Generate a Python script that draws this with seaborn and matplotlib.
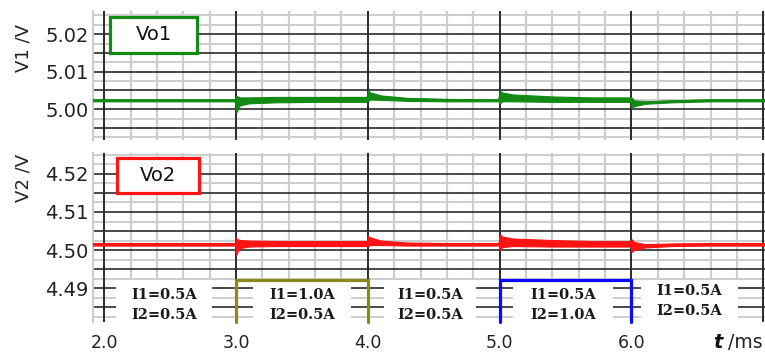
import numpy as np
import pandas as pd
import matplotlib
matplotlib.use("Agg")
import matplotlib.pyplot as plt
import seaborn as sns
from matplotlib.ticker import FixedLocator, FuncFormatter
from matplotlib.patches import Rectangle

# Time samples (ms) of the output-voltage envelopes
t_ms = [1.9, 2.995, 3.0, 3.01, 3.03, 3.1, 3.3, 3.6, 3.995, 4.0, 4.02, 4.1, 4.3,
        4.6, 4.995, 5.0, 5.02, 5.1, 5.4, 5.7, 5.995, 6.0, 6.02, 6.1, 6.3, 6.6, 7.02]

# Vo1 envelope (V)
v1_hi = [5.00263, 5.00263, 5.00368, 5.00342, 5.00316, 5.00316, 5.00329, 5.00329,
         5.00329, 5.00500, 5.00447, 5.00368, 5.00303, 5.00276, 5.00263, 5.00500,
         5.00447, 5.00395, 5.00342, 5.00316, 5.00316, 5.00316, 5.00237, 5.00211,
         5.00237, 5.00263, 5.00263]
v1_lo = [5.00211, 5.00211, 4.99895, 4.99974, 5.00105, 5.00158, 5.00184, 5.00197,
         5.00197, 5.00211, 5.00263, 5.00250, 5.00224, 5.00211, 5.00211, 5.00158,
         5.00211, 5.00211, 5.00197, 5.00197, 5.00197, 5.00026, 5.00079, 5.00145,
         5.00184, 5.00211, 5.00211]

# Vo2 envelope (V)
v2_hi = [4.50184, 4.50184, 4.50316, 4.50289, 4.50263, 4.50250, 4.50237, 4.50237,
         4.50237, 4.50368, 4.50329, 4.50250, 4.50197, 4.50184, 4.50184, 4.50421,
         4.50355, 4.50303, 4.50263, 4.50237, 4.50237, 4.50289, 4.50211, 4.50158,
         4.50171, 4.50184, 4.50184]
v2_lo = [4.50118, 4.50118, 4.49868, 4.49947, 4.50053, 4.50092, 4.50105, 4.50105,
         4.50105, 4.50105, 4.50132, 4.50132, 4.50118, 4.50118, 4.50118, 4.50000,
         4.50079, 4.50105, 4.50092, 4.50092, 4.50092, 4.49947, 4.50000, 4.50066,
         4.50105, 4.50118, 4.50118]

# Load currents in each time segment
segment_edges = [1.9, 3.0, 4.0, 5.0, 6.0, 7.02]
i1_labels = ["0.5", "1.0", "0.5", "0.5", "0.5"]
i2_labels = ["0.5", "0.5", "0.5", "1.0", "0.5"]

# Load-step pulses
pulse_start = [3.0, 5.0]
pulse_end = [4.0, 6.0]
pulse_level = 4.4921
pulse_colors = ["#8a8a1a", "#0a0aff"]

x_ticks = [2.0, 3.0, 4.0, 5.0, 6.0]

sns.set_theme(style="white")
plt.rcParams["font.family"] = ["DejaVu Sans"]

fig = plt.figure(figsize=(7.65, 3.56), dpi=100)
W, H = 765, 356


def px_axes(x0, y0, x1, y1):
    return fig.add_axes([x0 / W, 1 - y1 / H, (x1 - x0) / W, (y1 - y0) / H])


ax1 = px_axes(93, 11, 765, 140)
ax2 = px_axes(93, 153, 765, 322)

XLIM = (1.915, 7.013)
MAJOR = "#2b2b2b"
MINOR = "#cdcdcd"


def style_axes(ax, ylim, majors, minors, labels):
    ax.set_xlim(*XLIM)
    ax.set_ylim(*ylim)
    x_major = np.arange(2.0, 7.01, 1.0)
    x_minor = [v for v in np.arange(2.0, 7.01, 0.2) if abs(v - round(v)) > 1e-6]
    # grid: light lines first, dark lines on top of them
    for v in x_minor:
        ax.axvline(v, color=MINOR, lw=1.6, zorder=0.1)
    for v in minors:
        ax.axhline(v, color=MINOR, lw=1.4, zorder=0.1)
    for v in x_major:
        ax.axvline(v, color=MAJOR, lw=1.4, zorder=0.3)
    for v in majors:
        ax.axhline(v, color=MAJOR, lw=1.2, zorder=0.3)
    ax.xaxis.set_major_locator(FixedLocator(x_major))
    ax.yaxis.set_major_locator(FixedLocator(majors))
    ax.yaxis.set_major_formatter(FuncFormatter(
        lambda v, p: f"{v:.2f}" if any(abs(v - l) < 1e-6 for l in labels) else ""))
    ax.grid(False)
    for s in ["right", "bottom", "top"]:
        ax.spines[s].set_visible(False)
    ax.spines["left"].set_color(MINOR)
    ax.spines["left"].set_linewidth(1.5)
    ax.tick_params(axis="both", which="both", length=0)
    ax.tick_params(axis="y", labelsize=14, pad=3, labelcolor="#222222")


style_axes(ax1, (4.9918, 5.0262),
           np.arange(4.995, 5.0201, 0.005),
           list(np.arange(4.9925, 5.0226, 0.005)) + [5.025],
           [5.00, 5.01, 5.02])
style_axes(ax2, (4.4811, 4.5255),
           np.arange(4.485, 4.5201, 0.005),
           list(np.arange(4.4825, 4.5226, 0.005)) + [4.525],
           [4.49, 4.50, 4.51, 4.52])

df = pd.DataFrame({"t": t_ms, "v1_hi": v1_hi, "v1_lo": v1_lo,
                   "v2_hi": v2_hi, "v2_lo": v2_lo})
df["v1"] = (df.v1_hi + df.v1_lo) / 2
df["v2"] = (df.v2_hi + df.v2_lo) / 2

GREEN = "#138a13"
RED = "#ff1414"
ax1.fill_between(df.t, df.v1_lo, df.v1_hi, color=GREEN, lw=0.8, zorder=3)
sns.lineplot(data=df, x="t", y="v1", ax=ax1, color=GREEN, lw=1.5, zorder=3)
ax2.fill_between(df.t, df.v2_lo, df.v2_hi, color=RED, lw=0.8, zorder=3)
sns.lineplot(data=df, x="t", y="v2", ax=ax2, color=RED, lw=1.5, zorder=3)
for ax in (ax1, ax2):
    ax.set_xlabel("")
    ax.set_ylabel("")

ax1.tick_params(axis="x", labelbottom=False)
ax2.xaxis.set_major_formatter(FuncFormatter(
    lambda v, p: f"{v:.1f}" if any(abs(v - x) < 1e-6 for x in x_ticks) else ""))
ax2.tick_params(axis="x", labelsize=12.5, pad=9, labelcolor="#222222")

# Channel name boxes
for ax, name, col, (x0, y0, x1, y1) in [
        (ax1, "Vo1", GREEN, (0.026, 0.675, 0.155, 0.955)),
        (ax2, "Vo2", RED, (0.036, 0.765, 0.158, 0.972))]:
    ax.add_patch(Rectangle((x0, y0), x1 - x0, y1 - y0, transform=ax.transAxes,
                           facecolor="white", edgecolor=col, lw=2.3, zorder=5))
    ax.text((x0 + x1) / 2, (y0 + y1) / 2, name, transform=ax.transAxes,
            ha="center", va="center", fontsize=14, color="#111111", zorder=6)

# Load current labels on white patches
ybot = ax2.get_ylim()[0]
pad_l = [0.19, 0.13, 0.12, 0.10, 0.07]
pad_r = [0.18, 0.13, 0.18, 0.14, 0.21]
text_dy = [0, 0, 0, 0, 0.0010]
for k in range(len(i1_labels)):
    a, b = segment_edges[k] + pad_l[k], segment_edges[k + 1] - pad_r[k]
    ax2.add_patch(Rectangle((a, ybot), b - a, pulse_level - ybot,
                            facecolor="white", edgecolor="none", zorder=2))
    xc = (a + b) / 2
    ax2.text(xc, 4.4882 + text_dy[k], f"I1={i1_labels[k]}A", ha="center",
             va="center", fontsize=10.5, family="DejaVu Serif", weight="bold",
             color="#1a1a1a", zorder=6)
    ax2.text(xc, 4.4830 + text_dy[k], f"I2={i2_labels[k]}A", ha="center",
             va="center", fontsize=10.5, family="DejaVu Serif", weight="bold",
             color="#1a1a1a", zorder=6)

# Load-step pulses
for s, e, c in zip(pulse_start, pulse_end, pulse_colors):
    ax2.plot([s, s, e, e], [ybot, pulse_level, pulse_level, ybot],
             color=c, lw=2.3, zorder=4, solid_joinstyle="miter", clip_on=False)

# Axis titles
fig.text(24 / W, 1 - 48 / H, "V1 /V", rotation=90, ha="center", va="center",
         fontsize=13, color="#222222")
fig.text(24 / W, 1 - 178 / H, "V2 /V", rotation=90, ha="center", va="center",
         fontsize=13, color="#222222")
fig.text(723 / W, 1 - 343 / H, "t", style="italic", weight="bold", ha="right",
         va="center", fontsize=14, color="#111111")
fig.text(728 / W, 1 - 343 / H, "/ms", ha="left", va="center", fontsize=13.5,
         color="#222222")

fig.savefig("out.png", dpi=100)
